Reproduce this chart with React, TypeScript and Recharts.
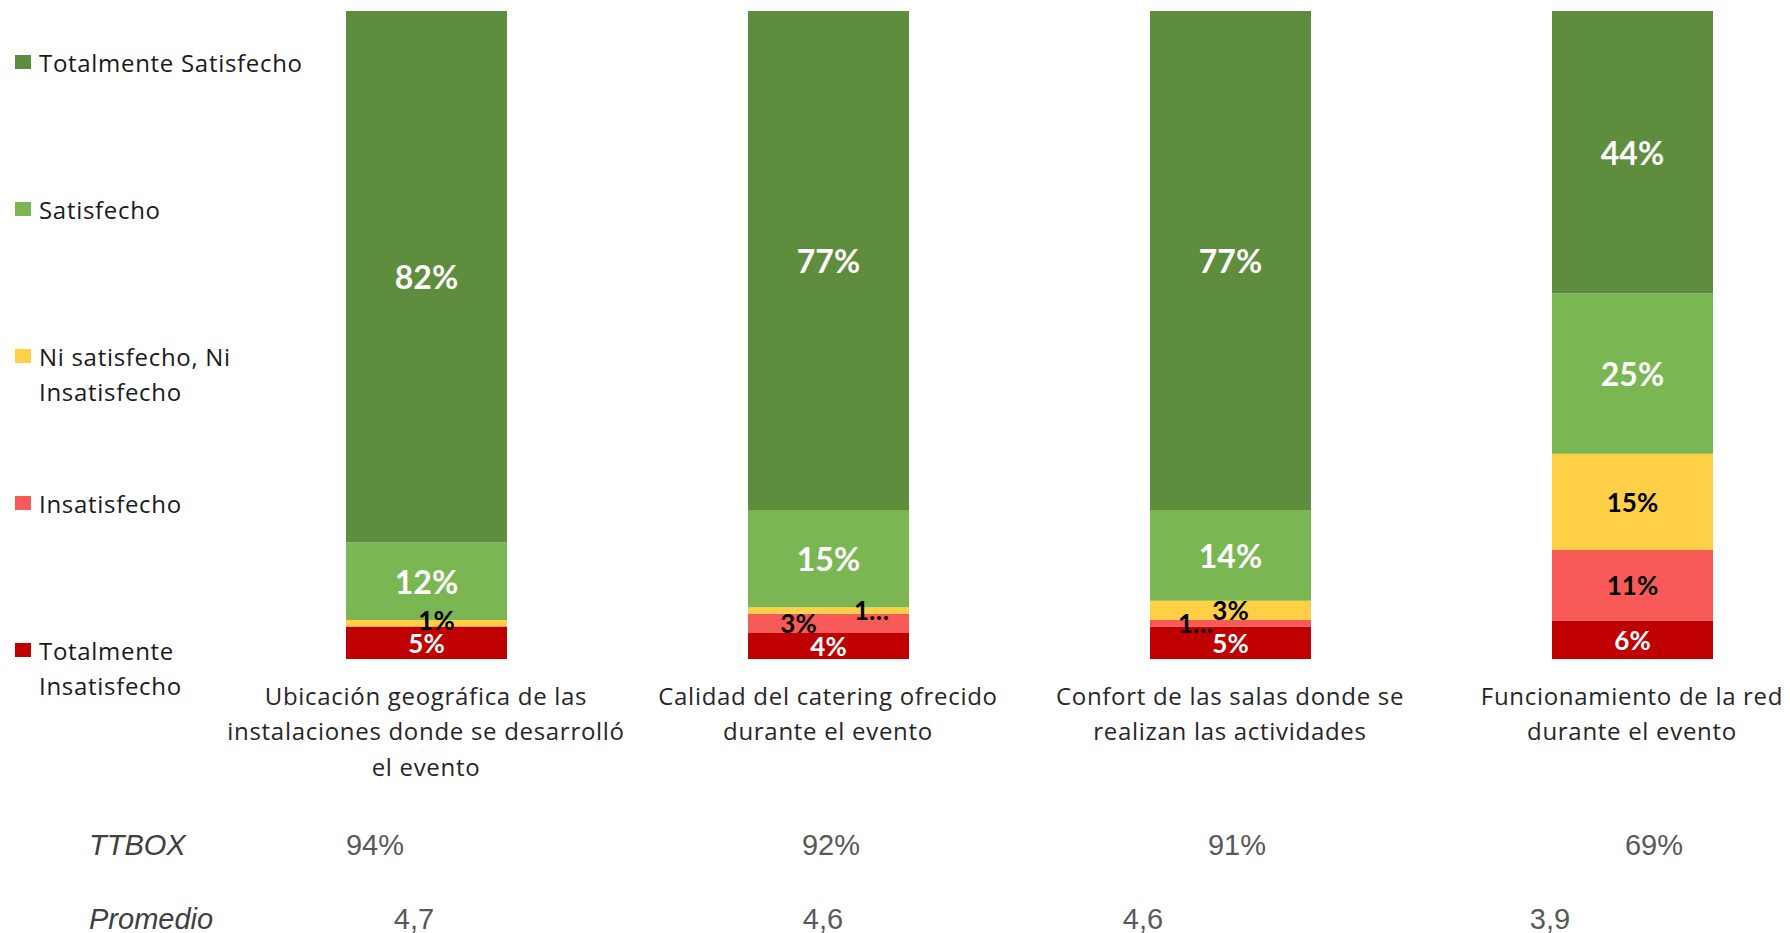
import React from 'react';
import { BarChart, Bar, XAxis, YAxis, LabelList } from 'recharts';

const categories = [
  'Ubicación geográfica de las\ninstalaciones donde se desarrolló\nel evento',
  'Calidad del catering ofrecido\ndurante el evento',
  'Confort de las salas donde se\nrealizan las actividades',
  'Funcionamiento de la red\ndurante el evento',
];
const totalmenteInsatisfecho = [5, 4, 5, 6];
const insatisfecho = [0, 3, 1, 11];
const niNi = [1, 1, 3, 15];
const satisfecho = [12, 15, 14, 25];
const totalmenteSatisfecho = [82, 77, 77, 44];
const ttbox = ['94%', '92%', '91%', '69%'];
const promedio = ['4,7', '4,6', '4,6', '3,9'];

// stack order bottom -> top
const series = [
  { key: 'tInsat', name: 'Totalmente\nInsatisfecho', values: totalmenteInsatisfecho, color: '#C00000', text: '#fff', size: 26 },
  { key: 'insat', name: 'Insatisfecho', values: insatisfecho, color: '#F85A57', text: '#000', size: 26 },
  { key: 'niNi', name: 'Ni satisfecho, Ni\nInsatisfecho', values: niNi, color: '#FFD046', text: '#000', size: 26 },
  { key: 'sat', name: 'Satisfecho', values: satisfecho, color: '#7AB753', text: '#fff', size: 32 },
  { key: 'tSat', name: 'Totalmente Satisfecho', values: totalmenteSatisfecho, color: '#5F8D3E', text: '#fff', size: 32 },
];

const data = categories.map((name, i) => {
  const row: Record<string, string | number> = { name };
  series.forEach((s) => { row[s.key] = s.values[i]; });
  return row;
});

// Excel moved / truncated a few of the crowded labels (keyed by series:category)
const labelTweaks: Record<string, { dx: number; dy?: number; text?: string }> = {
  'niNi:0': { dx: 10, dy: -3 },
  'niNi:1': { dx: 43, text: '1…' },
  'insat:1': { dx: -30 },
  'insat:2': { dx: -35, text: '1…' },
};

const CHART_W = 1840;
const M_LEFT = 225;
const M_RIGHT = 7;
const BAND = (CHART_W - M_LEFT - M_RIGHT) / categories.length;

const ttboxX = [375, 831, 1237, 1654];
const promedioX = [414, 823, 1143, 1550];

const makeLabel = (s: typeof series[number]) => (props: any) => {
  const vb = props.viewBox || {};
  const x = vb.x ?? props.x;
  const y = vb.y ?? props.y;
  const w = vb.width ?? props.width;
  const h = vb.height ?? props.height;
  const v = Number(props.value);
  if (!v) return null;
  const cat = Math.floor((x + w / 2 - M_LEFT) / BAND);
  const tw = labelTweaks[`${s.key}:${cat}`];
  return (
    <text
      x={x + w / 2 + (tw?.dx ?? 0)}
      y={y + h / 2 + (tw?.dy ?? 0)}
      textAnchor="middle"
      dominantBaseline="central"
      fill={s.text}
      fontFamily="Lato, sans-serif"
      fontWeight={700}
      fontSize={s.size}
    >
      {tw?.text ?? `${v}%`}
    </text>
  );
};

const CatTick = (props: any) => {
  const { x, y, payload } = props;
  const lines = String(payload.value).split('\n');
  return (
    <text x={x} y={y} textAnchor="middle" fill="#262626" fontFamily="'Open Sans', sans-serif" fontSize={24} letterSpacing={0.7}>
      {lines.map((l, i) => (
        <tspan key={i} x={x} y={y + 36 + i * 35.5} dominantBaseline="central">{l}</tspan>
      ))}
    </text>
  );
};

const rowText: React.CSSProperties = {
  position: 'absolute',
  transform: 'translate(-50%, -50%)',
  fontFamily: "'Liberation Sans', Arial, sans-serif",
  fontSize: 29,
  color: '#595959',
  whiteSpace: 'nowrap',
};

export default function App() {
  const legendItems = [...series].reverse();
  return (
    <div style={{ position: 'fixed', left: 0, top: 0, width: 1790, height: 933, overflow: 'hidden', background: '#fff' }}>
      <BarChart width={CHART_W} height={933} data={data} stackOffset="expand" margin={{ top: 11, right: M_RIGHT, left: M_LEFT, bottom: 0 }}>
        <XAxis dataKey="name" axisLine={false} tickLine={false} tickSize={0} tickMargin={0} height={274} interval={0} tick={<CatTick />} />
        <YAxis hide domain={[0, 1]} />
        {series.map((s) => (
          <Bar key={s.key} dataKey={s.key} name={s.name} stackId="a" fill={s.color} barSize={161} isAnimationActive={false}>
            <LabelList dataKey={s.key} content={makeLabel(s)} />
          </Bar>
        ))}
      </BarChart>

      {legendItems.map((s, i) => (
        <div key={s.key} style={{ position: 'absolute', left: 15, top: 62 + i * 147 - 17, display: 'flex', alignItems: 'flex-start' }}>
          <div style={{ width: 16, height: 14, background: s.color, marginTop: 10, marginRight: 8 }} />
          <div style={{ fontFamily: "'Open Sans', sans-serif", fontSize: 24, letterSpacing: 0.7, lineHeight: '35px', color: '#1a1a1a', whiteSpace: 'pre-line' }}>{s.name}</div>
        </div>
      ))}

      <div style={{ ...rowText, left: 89, top: 845, transform: 'translate(0, -50%)', fontStyle: 'italic', color: '#404040' }}>TTBOX</div>
      <div style={{ ...rowText, left: 89, top: 919, transform: 'translate(0, -50%)', fontStyle: 'italic', color: '#404040' }}>Promedio</div>
      {ttbox.map((t, i) => (
        <div key={`t${i}`} style={{ ...rowText, left: ttboxX[i], top: 845 }}>{t}</div>
      ))}
      {promedio.map((t, i) => (
        <div key={`p${i}`} style={{ ...rowText, left: promedioX[i], top: 919 }}>{t}</div>
      ))}
    </div>
  );
}
